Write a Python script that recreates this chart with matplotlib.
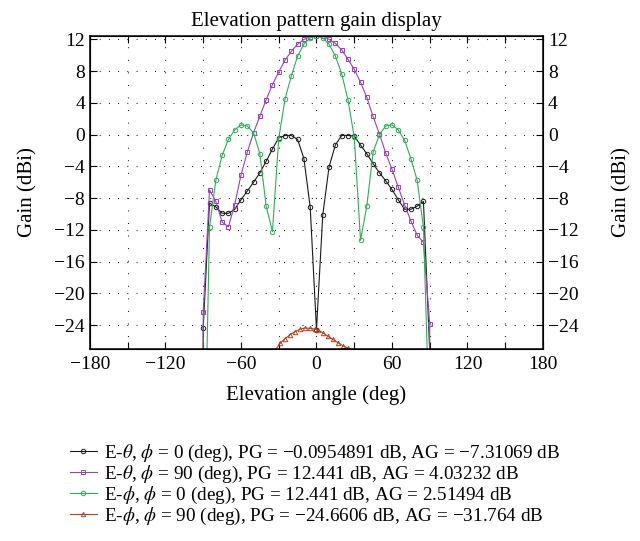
import numpy as np
import matplotlib
matplotlib.use('Agg')
import matplotlib.pyplot as plt
from matplotlib.ticker import MultipleLocator

plt.rcParams['font.family'] = ['Liberation Serif', 'DejaVu Serif']
plt.rcParams['mathtext.fontset'] = 'stix'
plt.rcParams['font.size'] = 13

# E-theta, phi = 0
ang_t0 = [-90, -90, -85, -80, -75, -70, -65, -60, -55, -50, -45, -40, -35, -30, -25, -20, -15, -10, -5,
          0, 5, 10, 15, 20, 25, 30, 35, 40, 45, 50, 55, 60, 65, 70, 75, 80, 85, 90]
gain_t0 = [-27.3, -24.3, -8.6, -9.1, -9.9, -9.9, -9.4, -8.2, -7.1, -6.0, -4.8, -3.35, -1.8, -0.4, -0.1, -0.1, -0.6, -3.0, -9.1,
           -24.55, -10.1, -4.05, -1.3, -0.1, -0.1, -0.15, -1.3, -2.4, -3.65, -4.8, -5.8, -6.9, -8.2, -9.4, -9.4, -9.0, -8.4, -27.3]

# E-theta, phi = 90
ang_t90 = [-90, -90, -85, -80, -75, -70, -65, -60, -55, -50, -45, -40, -35, -30, -25, -20, -15, -10, -5,
           0, 5, 10, 15, 20, 25, 30, 35, 40, 45, 50, 55, 60, 65, 70, 75, 80, 85, 90, 90]
gain_t90 = [-27.3, -22.4, -6.95, -8.4, -11.0, -11.6, -8.8, -5.1, -2.2, 0.25, 2.35, 4.4, 6.3, 7.9, 9.4, 10.5, 11.4, 12.0, 12.35,
            12.441, 12.441, 12.0, 11.5, 10.7, 9.5, 8.25, 6.6, 4.7, 2.3, 0.1, -2.3, -4.35, -6.6, -8.85, -10.85, -12.65, -13.55, -23.9, -27.3]

# E-phi, phi = 0
ang_p0 = [-87, -85, -80, -75, -70, -65, -60, -55, -50, -45, -40, -35, -30, -25, -20, -15, -10, -5,
          0, 5, 10, 15, 20, 25, 30, 35, 40, 45, 50, 55, 60, 65, 70, 75, 80, 85, 88]
gain_p0 = [-27.3, -11.65, -5.75, -2.6, -0.6, 0.6, 1.25, 1.1, 0.25, -2.4, -9.0, -12.2, -0.5, 4.5, 7.4, 9.9, 11.4, 12.2,
           12.441, 12.2, 11.4, 9.9, 7.7, 4.4, -0.3, -13.3, -9.0, -2.2, 0.0, 1.1, 1.25, 0.6, -0.7, -3.0, -5.75, -11.65, -27.3]

# E-phi, phi = 90
ang_p90 = [-33, -29, -25, -21, -17, -13, -9, -5, -1, 1, 5, 9, 13, 17, 21, 25, 29, 33]
gain_p90 = [-27.2, -26.3, -25.7, -25.2, -24.8, -24.5, -24.35, -24.4, -24.5, -24.6, -24.95, -25.4, -25.8, -26.2,
            -26.6, -26.9, -27.2, -27.3]

labels = [
    r'E-$\theta$, $\phi$ = 0 (deg), PG = −0.0954891 dB, AG = −7.31069 dB',
    r'E-$\theta$, $\phi$ = 90 (deg), PG = 12.441 dB, AG = 4.03232 dB',
    r'E-$\phi$, $\phi$ = 0 (deg), PG = 12.441 dB, AG = 2.51494 dB',
    r'E-$\phi$, $\phi$ = 90 (deg), PG = −24.6606 dB, AG = −31.764 dB',
]
colors = ['#1a1a1a', '#9a3fc4', '#2fae55', '#b5411c']
markers = ['o', 's', 'o', '^']

fig = plt.figure(figsize=(6.4, 5.41), dpi=100)
ax = fig.add_axes([0.1406, 0.3549, 0.7078, 0.5786])

series = [(ang_t0, gain_t0), (ang_t90, gain_t90), (ang_p0, gain_p0), (ang_p90, gain_p90)]
for (a, g), c, m, lab in zip(series, colors, markers, labels):
    ax.plot(a, g, color=c, marker=m, markersize=3.2, markerfacecolor='none',
            markeredgewidth=0.7, linewidth=0.8, label=lab)

ax.set_xlim(-180, 180)
ax.set_ylim(-27, 12.441)
ax.xaxis.set_major_locator(MultipleLocator(60))
ax.xaxis.set_minor_locator(MultipleLocator(30))
ax.yaxis.set_major_locator(MultipleLocator(4))
ax.tick_params(which='both', direction='in', top=True, right=True, length=5, width=0.8, labelsize=14)
ax.tick_params(axis='x', pad=5)
ax.grid(which='both', axis='x', color='black', linestyle=(0, (0.8, 10.5)), linewidth=0.8)
ax.grid(which='major', axis='y', color='black', linestyle=(0, (0.8, 7.5)), linewidth=0.8)
for s in ax.spines.values():
    s.set_linewidth(1.1)

ax2 = ax.twinx()
ax2.set_ylim(ax.get_ylim())
ax2.yaxis.set_major_locator(MultipleLocator(4))
ax2.tick_params(direction='in', length=5, width=0.8, labelsize=14)
ax2.set_ylabel('Gain (dBi)', labelpad=24, fontsize=15)

ax.set_title('Elevation pattern gain display', pad=7, fontsize=15)
ax.set_xlabel('Elevation angle (deg)', labelpad=9, fontsize=15)
ax.set_ylabel('Gain (dBi)', labelpad=12, fontsize=15)

handles, labs = ax.get_legend_handles_labels()
fig.legend(handles, labs, loc='center left', bbox_to_anchor=(0.082, 0.1035), frameon=False,
           fontsize=13.8, handlelength=1.4, handletextpad=0.4, labelspacing=0.0)

fig.savefig('out.png', dpi=100)
